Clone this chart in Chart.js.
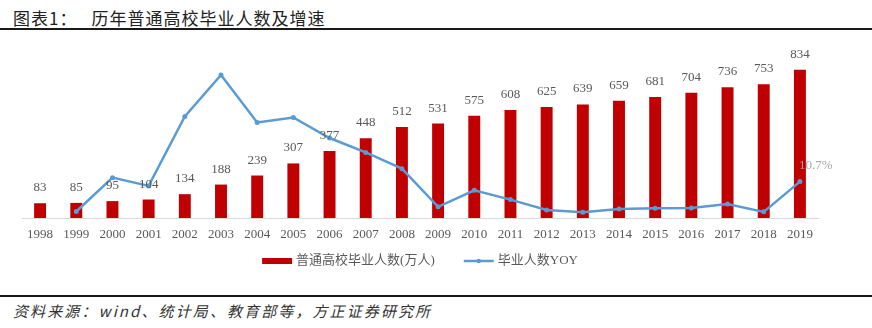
<!DOCTYPE html>
<html>
<head>
<meta charset="utf-8">
<script src="https://cdn.jsdelivr.net/npm/chart.js@4.4.1/dist/chart.umd.min.js"></script>
<style>
  html, body { margin: 0; padding: 0; background: #fff; }
  #page { position: relative; width: 872px; height: 328px; overflow: hidden; }
  #title {
    position: absolute; left: 13px; top: 5px;
    font: 17px "Noto Sans CJK SC", sans-serif; color: #222; letter-spacing: 1px;
  }
  #title .gap { display: inline-block; width: 14px; }
  .rule { position: absolute; left: 0; width: 872px; height: 2px; background: #1a1a1a; }
  #source {
    position: absolute; left: 13px; top: 300px;
    font: italic 15px "Noto Sans CJK SC", sans-serif; color: #333; letter-spacing: 2.1px;
  }
  #chartBox { position: absolute; left: 0; top: 36px; width: 872px; height: 252px; }
</style>
</head>
<body>
<div id="page">
  <div id="title">图表1：<span class="gap"></span>历年普通高校毕业人数及增速</div>
  <div class="rule" style="top:28px"></div>
  <div id="chartBox"><canvas id="chart"></canvas></div>
  <div class="rule" style="top:295px"></div>
  <div id="source">资料来源：wind、统计局、教育部等，方正证券研究所</div>
</div>
<script>
// 数据
const years = ['1998', '1999', '2000', '2001', '2002', '2003', '2004', '2005', '2006', '2007', '2008',
               '2009', '2010', '2011', '2012', '2013', '2014', '2015', '2016', '2017', '2018', '2019'];
const graduates = [83, 85, 95, 104, 134, 188, 239, 307, 377, 448, 512,
                   531, 575, 608, 625, 639, 659, 681, 704, 736, 753, 834];
const yoy = [null, 2.4, 11.8, 9.5, 28.8, 40.3, 27.1, 28.5, 22.8, 18.8, 14.3,
             3.7, 8.3, 5.7, 2.8, 2.2, 3.1, 3.3, 3.4, 4.5, 2.3, 10.7];

const RED = '#C00000';
const BLUE = '#5B9BD5';
const GREY = '#595959';
const SERIF = '"Liberation Serif", "Noto Sans CJK SC", serif';

// 柱子上的数值 + 最后一个增速标签
const valueLabels = {
  id: 'valueLabels',
  afterDatasetsDraw(chart) {
    const ctx = chart.ctx;
    ctx.save();
    ctx.font = '13px ' + SERIF;
    ctx.textAlign = 'center';
    ctx.textBaseline = 'alphabetic';
    ctx.fillStyle = GREY;
    chart.getDatasetMeta(0).data.forEach((bar, i) => {
      ctx.fillText(String(graduates[i]), bar.x, bar.y - 12);
    });
    const pts = chart.getDatasetMeta(1).data;
    const last = pts[pts.length - 1];
    ctx.fillStyle = '#a6a6a6';
    ctx.fillText(yoy[yoy.length - 1].toFixed(1) + '%', last.x + 16, last.y - 13);
    ctx.restore();
  }
};

// 底部图例（自己画，间距好控制）
const bottomLegend = {
  id: 'bottomLegend',
  afterDraw(chart) {
    const ctx = chart.ctx;
    const area = chart.chartArea;
    const ds = chart.data.datasets;
    ctx.save();
    ctx.font = '13px ' + SERIF;
    ctx.textBaseline = 'middle';
    ctx.textAlign = 'left';
    const w0 = ctx.measureText(ds[0].label).width;
    const w1 = ctx.measureText(ds[1].label).width;
    const total = 30 + 4 + w0 + 29 + 30 + 4 + w1;
    let x = (area.left + area.right) / 2 - total / 2;
    const y = area.bottom + 43;
    ctx.fillStyle = RED;
    ctx.fillRect(x, y - 3, 30, 6);
    x += 34;
    ctx.fillStyle = GREY;
    ctx.fillText(ds[0].label, x, y);
    x += w0 + 29;
    ctx.strokeStyle = BLUE;
    ctx.lineWidth = 2.5;
    ctx.beginPath();
    ctx.moveTo(x, y);
    ctx.lineTo(x + 30, y);
    ctx.stroke();
    ctx.fillStyle = BLUE;
    ctx.beginPath();
    ctx.arc(x + 15, y, 2.2, 0, Math.PI * 2);
    ctx.fill();
    x += 34;
    ctx.fillStyle = GREY;
    ctx.fillText(ds[1].label, x, y);
    ctx.restore();
  }
};

new Chart(document.getElementById('chart').getContext('2d'), {
  type: 'bar',
  data: {
    labels: years,
    datasets: [{
      label: '普通高校毕业人数(万人)',
      data: graduates,
      backgroundColor: RED,
      categoryPercentage: 1,
      barPercentage: 0.33,
      yAxisID: 'y',
      order: 1
    }, {
      type: 'line',
      label: '毕业人数YOY',
      data: yoy,
      borderColor: BLUE,
      backgroundColor: BLUE,
      borderWidth: 2.5,
      pointRadius: 2.5,
      pointBackgroundColor: BLUE,
      pointBorderWidth: 0,
      tension: 0,
      yAxisID: 'y1',
      order: 0
    }]
  },
  options: {
    responsive: true,
    maintainAspectRatio: false,
    animation: false,
    layout: { padding: { left: 22, right: 54, top: 22, bottom: 44 } },
    scales: {
      x: {
        offset: true,
        grid: { display: false, drawTicks: false },
        border: { color: '#D9D9D9', width: 1 },
        ticks: { color: GREY, font: { family: SERIF, size: 13 }, padding: 9, maxRotation: 0, autoSkip: false },
        afterFit: (scale) => { scale.height = 26; }
      },
      y: { display: false, min: 0, max: 900 },
      y1: { display: false, min: 0.6, max: 45 }
    },
    plugins: {
      legend: { display: false },
      tooltip: { enabled: false }
    }
  },
  plugins: [valueLabels, bottomLegend]
});
</script>
</body>
</html>
